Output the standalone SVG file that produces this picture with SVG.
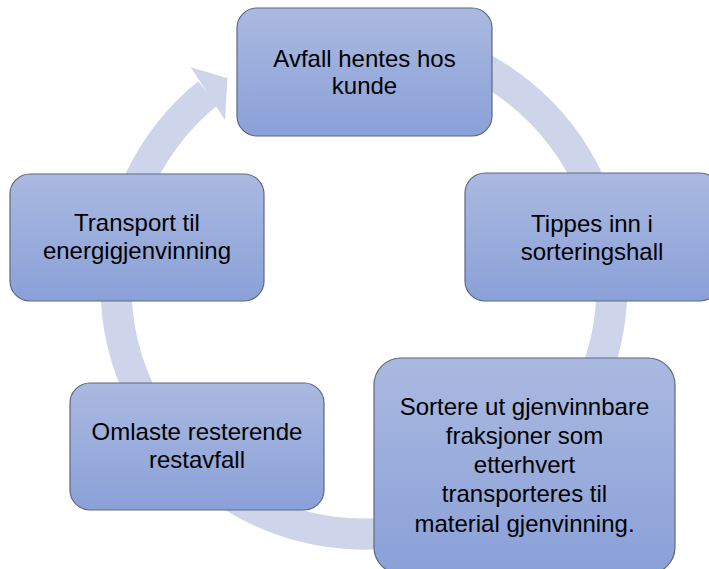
<svg xmlns="http://www.w3.org/2000/svg" width="709" height="569" viewBox="0 0 709 569">
  <defs>
    <linearGradient id="boxFill" x1="0" y1="0" x2="0" y2="1">
      <stop offset="0" stop-color="#AAB9E0"/>
      <stop offset="1" stop-color="#8AA0D8"/>
    </linearGradient>
  </defs>
  <style>
    .box { fill: url(#boxFill); stroke: #5E697E; stroke-width: 1.2; }
    .lbl { font-family: "Liberation Sans", Arial, sans-serif; font-size: 24px; fill: #000; text-anchor: middle; }
    .ring { fill: none; stroke: #CED5EA; stroke-width: 31; }
    .head { fill: #CED5EA; stroke: none; }
  </style>
  <rect width="709" height="569" fill="#FFFFFF"/>
  <g id="connectors">
    <path class="ring" d="M 428.2 46.5 A 248 248 0 1 1 207.9 93.3"/>
    <polygon class="head" points="190.7,67.3 227.5,78.3 225,120"/>
  </g>
  <g id="node-avfall-hentes">
    <rect class="box" x="237" y="8" width="255" height="128" rx="20" ry="20"/>
    <text class="lbl" x="364.5" y="67">Avfall hentes hos</text>
    <text class="lbl" x="364.5" y="94">kunde</text>
  </g>
  <g id="node-tippes">
    <rect class="box" x="465" y="173" width="255" height="128" rx="20" ry="20"/>
    <text class="lbl" x="592" y="232">Tippes inn i</text>
    <text class="lbl" x="592" y="260">sorteringshall</text>
  </g>
  <g id="node-sortere">
    <rect class="box" x="374" y="358" width="301" height="216" rx="27" ry="27"/>
    <text class="lbl" x="524.5" y="415">Sortere ut gjenvinnbare</text>
    <text class="lbl" x="524.5" y="444">fraksjoner som</text>
    <text class="lbl" x="524.5" y="473">etterhvert</text>
    <text class="lbl" x="524.5" y="502">transporteres til</text>
    <text class="lbl" x="524.5" y="532">material gjenvinning.</text>
  </g>
  <g id="node-omlaste">
    <rect class="box" x="70" y="383" width="254" height="127" rx="20" ry="20"/>
    <text class="lbl" x="197" y="440">Omlaste resterende</text>
    <text class="lbl" x="197" y="468">restavfall</text>
  </g>
  <g id="node-transport">
    <rect class="box" x="10" y="174" width="254" height="127" rx="20" ry="20"/>
    <text class="lbl" x="137" y="231">Transport til</text>
    <text class="lbl" x="137" y="259">energigjenvinning</text>
  </g>
</svg>
